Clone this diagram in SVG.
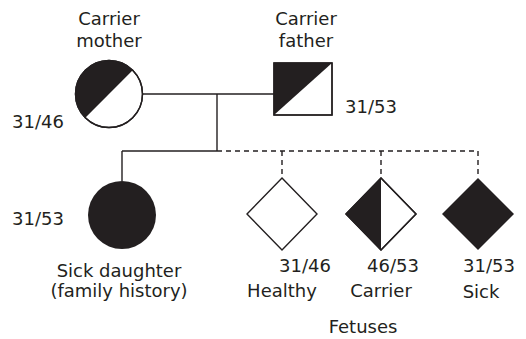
<svg xmlns="http://www.w3.org/2000/svg" width="526" height="339" viewBox="0 0 526 339">
<style>
.t{font-family:"DejaVu Sans","Liberation Sans",sans-serif;font-size:18px;fill:#231f20}
.c{text-anchor:middle}
.ln{stroke:#231f20;stroke-width:1.4;fill:none}
.dash{stroke-dasharray:5 4}
.o{fill:#fff;stroke:#231f20;stroke-width:1.4}
.f{fill:#231f20;stroke:none}
</style>
<rect width="526" height="339" fill="#fff"/>
<g id="connectors">
<line class="ln" x1="142" y1="94" x2="274" y2="94"/>
<line class="ln" x1="217" y1="94" x2="217" y2="151"/>
<line class="ln" x1="122" y1="151" x2="217" y2="151"/>
<line class="ln" x1="122" y1="151" x2="122" y2="181"/>
<line class="ln dash" x1="217" y1="151" x2="478" y2="151"/>
<line class="ln dash" x1="282" y1="151" x2="282" y2="178"/>
<line class="ln dash" x1="381" y1="151" x2="381" y2="178"/>
<line class="ln dash" x1="478" y1="151" x2="478" y2="178"/>
</g>
<g id="mother">
<circle class="o" cx="109" cy="94" r="33.5"/>
<path class="f" d="M132.7,70.3 A33.5,33.5 0 0 0 85.3,117.7 Z"/>
<circle class="ln" cx="109" cy="94" r="33.5"/>
<text class="t c" x="109" y="25">Carrier</text>
<text class="t c" x="109" y="47">mother</text>
<text class="t" x="12" y="128">31/46</text>
</g>
<g id="father">
<rect class="o" x="274" y="63" width="58" height="52"/>
<path class="f" d="M274,63 H332 L274,115 Z"/>
<rect class="ln" x="274" y="63" width="58" height="52"/>
<text class="t c" x="306" y="25">Carrier</text>
<text class="t c" x="306" y="47">father</text>
<text class="t" x="345" y="113">31/53</text>
</g>
<g id="daughter">
<circle class="f" cx="122" cy="215" r="34"/>
<text class="t" x="12" y="225">31/53</text>
<text class="t c" x="119" y="277">Sick daughter</text>
<text class="t c" x="119" y="297">(family history)</text>
</g>
<g id="fetus-healthy">
<path class="o" d="M282,178 L317,214 L282,250 L247,214 Z"/>
<text class="t" x="279" y="272">31/46</text>
<text class="t c" x="282" y="297">Healthy</text>
</g>
<g id="fetus-carrier">
<path class="o" d="M381,178 L416,214 L381,250 L346,214 Z"/>
<path class="f" d="M381,178 L381,250 L346,214 Z"/>
<path class="ln" d="M381,178 L416,214 L381,250 L346,214 Z"/>
<text class="t" x="367" y="272">46/53</text>
<text class="t c" x="381" y="297">Carrier</text>
</g>
<g id="fetus-sick">
<path class="f" d="M478,178 L514,214 L478,250 L442,214 Z"/>
<text class="t" x="463" y="272">31/53</text>
<text class="t c" x="481" y="298">Sick</text>
</g>
<text class="t c" x="363" y="333">Fetuses</text>
</svg>
